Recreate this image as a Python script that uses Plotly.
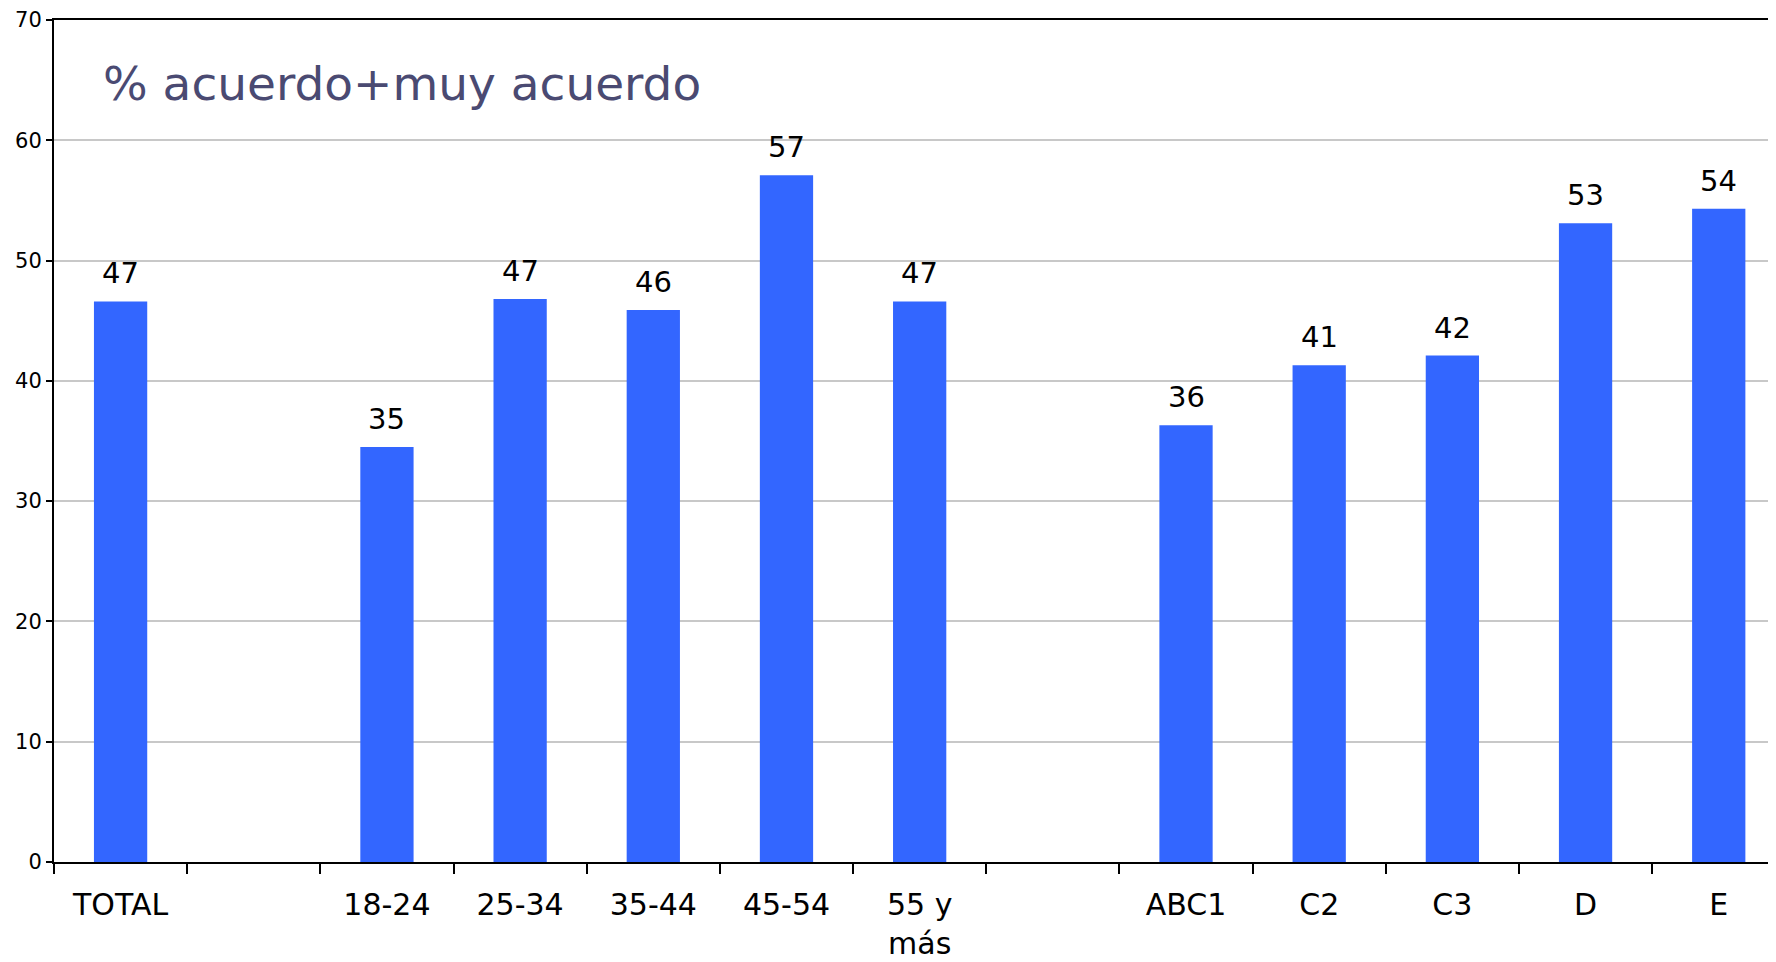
"""Bar chart - % acuerdo+muy acuerdo by total, age group and socio-economic level."""

from __future__ import annotations

import plotly.graph_objects as go

CATEGORIES = [
    "TOTAL", " ", "18-24", "25-34", "35-44", "45-54", "55 y<br>más",
    "  ", "ABC1", "C2", "C3", "D", "E",
]
VALUES = [46.6, None, 34.5, 46.8, 45.9, 57.1, 46.6, None, 36.3, 41.3, 42.1, 53.1, 54.3]
LABELS = ["47", "", "35", "47", "46", "57", "47", "", "36", "41", "42", "53", "54"]
Y_TICKS = [0, 10, 20, 30, 40, 50, 60, 70]

_BAR_COLOR = "#3366FF"
_TITLE_COLOR = "#4a4a72"
_GRID_COLOR = "#c8c8c8"
_FONT = "DejaVu Sans"

# the page body has an 8px margin, so the figure sits 8px in from the window edge
_WIDTH = 1768
_HEIGHT = 954


def create_figure() -> go.Figure:
    fig = go.Figure()
    _add_bars(fig)
    _add_value_labels(fig)
    _add_title(fig)
    _configure_layout(fig)
    return fig


def _add_bars(fig: go.Figure) -> None:
    fig.add_trace(
        go.Bar(
            x=CATEGORIES,
            y=VALUES,
            marker=dict(color=_BAR_COLOR, line=dict(width=0)),
            width=0.4,
            hoverinfo="x+y",
            showlegend=False,
        )
    )


def _add_value_labels(fig: go.Figure) -> None:
    for cat, val, label in zip(CATEGORIES, VALUES, LABELS):
        if val is None:
            continue
        fig.add_annotation(
            x=cat,
            y=val,
            text=label,
            showarrow=False,
            xanchor="center",
            yanchor="bottom",
            yshift=9,
            font=dict(family=_FONT, size=29, color="#000000"),
        )


def _add_title(fig: go.Figure) -> None:
    fig.add_annotation(
        x=-0.15,
        y=64.7,
        xref="x",
        yref="y",
        text="% acuerdo+muy acuerdo",
        showarrow=False,
        xanchor="left",
        yanchor="middle",
        font=dict(family=_FONT, size=47, color=_TITLE_COLOR),
    )


def _configure_layout(fig: go.Figure) -> None:
    fig.update_layout(
        width=_WIDTH,
        height=_HEIGHT,
        margin=dict(l=46, r=0, t=12, b=100),
        paper_bgcolor="white",
        plot_bgcolor="white",
        font=dict(family=_FONT, color="#000000"),
    )
    fig.update_xaxes(
        type="category",
        range=[-0.5, 12.43],
        showline=True,
        linecolor="#000000",
        linewidth=2,
        mirror=True,
        ticks="outside",
        tickson="boundaries",
        ticklen=10,
        tickwidth=2,
        tickcolor="#000000",
        tickfont=dict(family=_FONT, size=30),
        ticklabelstandoff=15,
        automargin=False,
        showgrid=False,
        fixedrange=True,
    )
    fig.update_yaxes(
        range=[0, 70],
        tickvals=Y_TICKS,
        showline=True,
        linecolor="#000000",
        linewidth=2,
        ticks="outside",
        ticklen=6,
        tickwidth=2,
        tickcolor="#000000",
        tickfont=dict(family=_FONT, size=21),
        automargin=False,
        showgrid=True,
        gridcolor=_GRID_COLOR,
        gridwidth=2,
        zeroline=False,
        fixedrange=True,
    )


fig = create_figure()
fig.write_html("out.html")
